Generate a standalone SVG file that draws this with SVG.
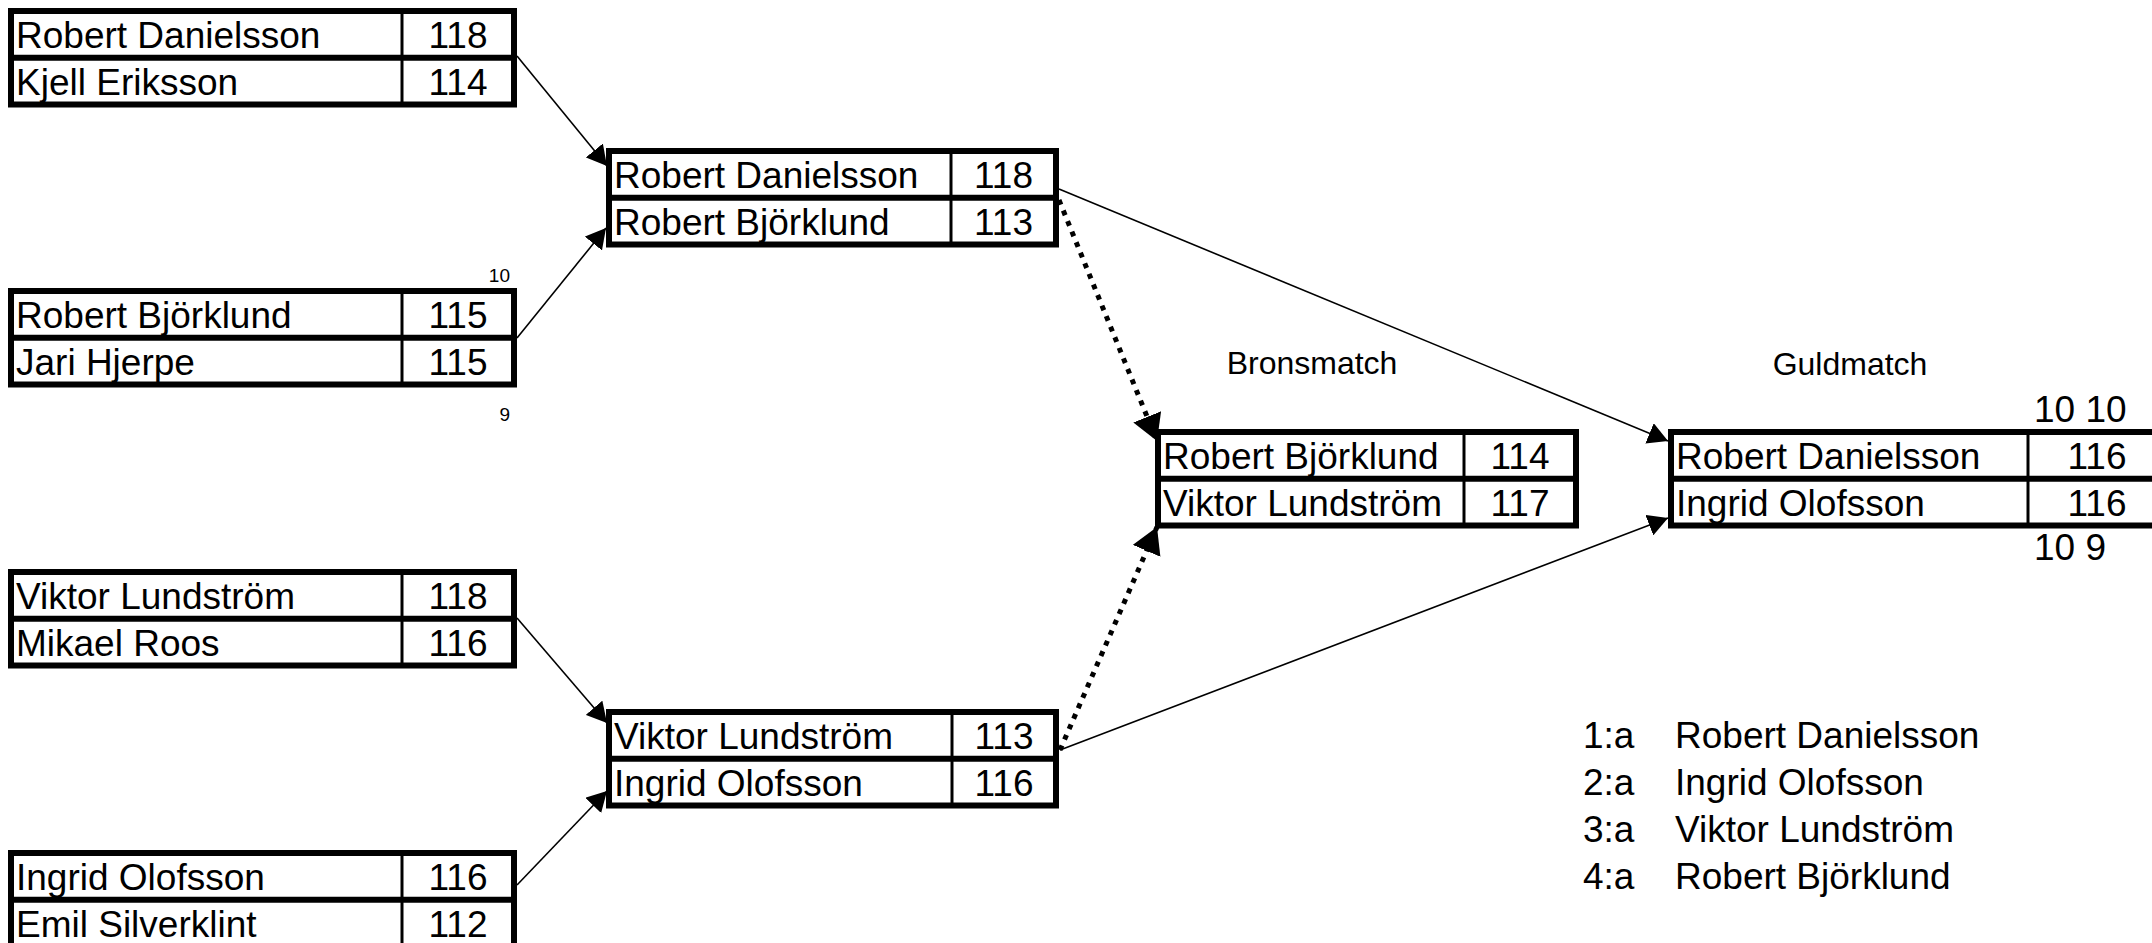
<svg xmlns="http://www.w3.org/2000/svg" width="2152" height="943" viewBox="0 0 2152 943">
<style>
text{font-family:"Liberation Sans",Arial,sans-serif;fill:#000}
.t{font-size:37px}
.n{font-size:37px;text-anchor:middle}
.o{fill:#fff;stroke:#000;stroke-width:6}
.h{stroke:#000;stroke-width:6}
.v{stroke:#000;stroke-width:3}
.s{stroke:#000;stroke-width:1.6;fill:none}
.d{stroke:#000;stroke-width:5;fill:none;stroke-dasharray:5 6.4}
.lbl{font-size:32px;text-anchor:middle}
.sm{font-size:19px;text-anchor:end}
</style>
<defs>
<marker id="as" viewBox="0 0 20 22" refX="20" refY="11" markerWidth="20" markerHeight="22" markerUnits="userSpaceOnUse" orient="auto"><path d="M0,0 L20,11 L0,22 z" fill="#000"/></marker>
<marker id="ad" viewBox="0 0 26 30" refX="26" refY="15" markerWidth="26" markerHeight="30" markerUnits="userSpaceOnUse" orient="auto"><path d="M0,0 L26,15 L0,30 z" fill="#000"/></marker>
</defs>
<rect width="2152" height="943" fill="#fff"/>
<g id="connectors">
<line class="s" x1="517" y1="56" x2="607" y2="166" marker-end="url(#as)"/>
<line class="s" x1="517" y1="338" x2="606" y2="228" marker-end="url(#as)"/>
<line class="s" x1="517" y1="618" x2="607" y2="723" marker-end="url(#as)"/>
<line class="s" x1="517" y1="885" x2="607" y2="791" marker-end="url(#as)"/>
<line class="s" x1="1059" y1="189" x2="1668" y2="441" marker-end="url(#as)"/>
<line class="s" x1="1060" y1="750" x2="1668" y2="518" marker-end="url(#as)"/>
<line class="d" x1="1059" y1="200" x2="1157" y2="441" marker-end="url(#ad)"/>
<line class="d" x1="1060" y1="750" x2="1157" y2="527" marker-end="url(#ad)"/>
</g>
<g id="a1" transform="translate(11,11)">
<rect class="o" width="503" height="93.5"/><line class="h" x1="0" y1="46.75" x2="503" y2="46.75"/><line class="v" x1="391" y1="0" x2="391" y2="93.5"/>
<text class="t" x="5" y="37">Robert Danielsson</text><text class="n" x="447" y="37">118</text>
<text class="t" x="5" y="84">Kjell Eriksson</text><text class="n" x="447" y="84">114</text>
</g>
<g id="a2" transform="translate(11,291)">
<rect class="o" width="503" height="93.5"/><line class="h" x1="0" y1="46.75" x2="503" y2="46.75"/><line class="v" x1="391" y1="0" x2="391" y2="93.5"/>
<text class="t" x="5" y="37">Robert Björklund</text><text class="n" x="447" y="37">115</text>
<text class="t" x="5" y="84">Jari Hjerpe</text><text class="n" x="447" y="84">115</text>
</g>
<g id="a2-scores">
<text class="sm" x="510" y="282">10</text>
<text class="sm" x="510" y="421">9</text>
</g>
<g id="a3" transform="translate(11,572)">
<rect class="o" width="503" height="93.5"/><line class="h" x1="0" y1="46.75" x2="503" y2="46.75"/><line class="v" x1="391" y1="0" x2="391" y2="93.5"/>
<text class="t" x="5" y="37">Viktor Lundström</text><text class="n" x="447" y="37">118</text>
<text class="t" x="5" y="84">Mikael Roos</text><text class="n" x="447" y="84">116</text>
</g>
<g id="a4" transform="translate(11,853)">
<rect class="o" width="503" height="93.5"/><line class="h" x1="0" y1="46.75" x2="503" y2="46.75"/><line class="v" x1="391" y1="0" x2="391" y2="93.5"/>
<text class="t" x="5" y="37">Ingrid Olofsson</text><text class="n" x="447" y="37">116</text>
<text class="t" x="5" y="84">Emil Silverklint</text><text class="n" x="447" y="84">112</text>
</g>
<g id="b1" transform="translate(609,151)">
<rect class="o" width="447" height="93.5"/><line class="h" x1="0" y1="46.75" x2="447" y2="46.75"/><line class="v" x1="342" y1="0" x2="342" y2="93.5"/>
<text class="t" x="5" y="37">Robert Danielsson</text><text class="n" x="394.5" y="37">118</text>
<text class="t" x="5" y="84">Robert Björklund</text><text class="n" x="394.5" y="84">113</text>
</g>
<g id="b2" transform="translate(609,712)">
<rect class="o" width="447" height="93.5"/><line class="h" x1="0" y1="46.75" x2="447" y2="46.75"/><line class="v" x1="343" y1="0" x2="343" y2="93.5"/>
<text class="t" x="5" y="37">Viktor Lundström</text><text class="n" x="395" y="37">113</text>
<text class="t" x="5" y="84">Ingrid Olofsson</text><text class="n" x="395" y="84">116</text>
</g>
<g id="bronsmatch" transform="translate(1158,432)">
<text class="lbl" x="154" y="-58">Bronsmatch</text>
<rect class="o" width="418" height="93.5"/><line class="h" x1="0" y1="46.75" x2="418" y2="46.75"/><line class="v" x1="306" y1="0" x2="306" y2="93.5"/>
<text class="t" x="5" y="37">Robert Björklund</text><text class="n" x="362" y="37">114</text>
<text class="t" x="5" y="84">Viktor Lundström</text><text class="n" x="362" y="84">117</text>
</g>
<g id="guldmatch" transform="translate(1671,432)">
<text class="lbl" x="179" y="-57">Guldmatch</text>
<rect class="o" width="489" height="93.5"/><line class="h" x1="0" y1="46.75" x2="489" y2="46.75"/><line class="v" x1="357" y1="0" x2="357" y2="93.5"/>
<text class="t" x="5" y="37">Robert Danielsson</text><text class="n" x="426" y="37">116</text>
<text class="t" x="5" y="84">Ingrid Olofsson</text><text class="n" x="426" y="84">116</text>
<text class="t" x="363" y="-10">10 10</text>
<text class="t" x="363" y="128">10 9</text>
</g>
<g id="legend">
<text class="t" x="1583" y="748">1:a</text><text class="t" x="1675" y="748">Robert Danielsson</text>
<text class="t" x="1583" y="795">2:a</text><text class="t" x="1675" y="795">Ingrid Olofsson</text>
<text class="t" x="1583" y="842">3:a</text><text class="t" x="1675" y="842">Viktor Lundström</text>
<text class="t" x="1583" y="889">4:a</text><text class="t" x="1675" y="889">Robert Björklund</text>
</g>
</svg>
